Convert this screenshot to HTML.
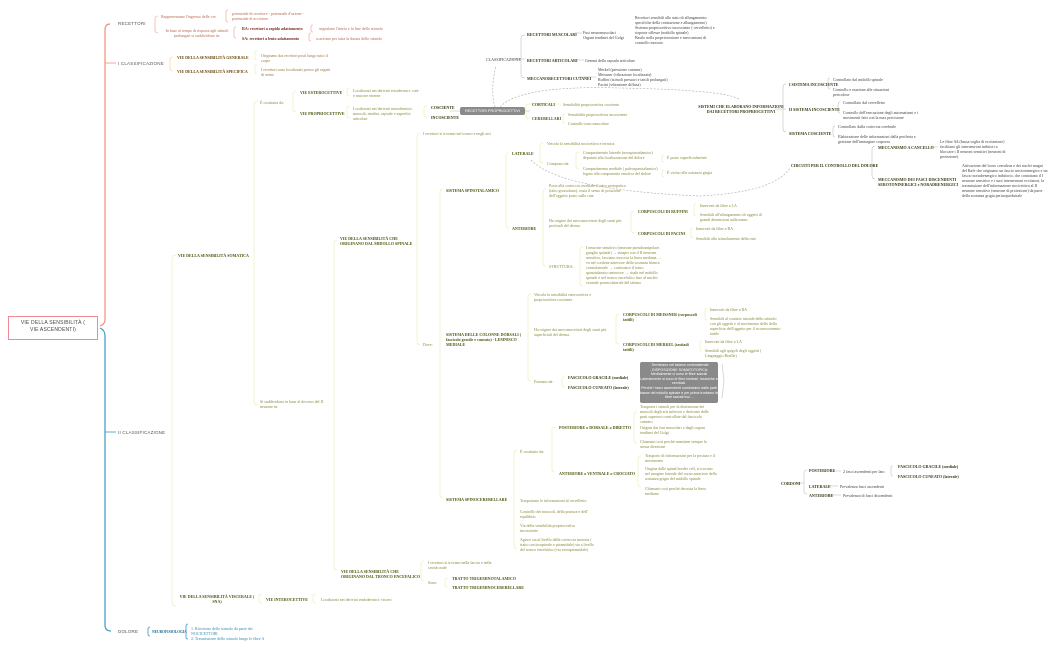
<!DOCTYPE html>
<html><head><meta charset="utf-8">
<style>
html,body{margin:0;padding:0;background:#fff;}
#c{position:relative;width:1050px;height:650px;overflow:hidden;background:#fff;}
.t{position:absolute;font-family:"Liberation Serif",serif;font-size:4px;line-height:5px;color:#7a6a3a;white-space:normal;}
.r{color:#b86a4e;}
.b{font-weight:bold;color:#3a3a1a;letter-spacing:0;}
.br{font-weight:bold;color:#7a2a1a;}
.g{color:#8a8a40;}
.k{color:#444;}
.s{font-family:"Liberation Sans",sans-serif;font-size:5px;color:#555;letter-spacing:0.2px;}
.bl{color:#3a8ab0;}
.box{position:absolute;background:#8a8a8a;color:#fff;font-family:"Liberation Sans",sans-serif;font-size:4px;line-height:5px;text-align:center;border-radius:2px;}
svg{position:absolute;left:0;top:0;}
</style></head><body><div id="c">
<svg width="1050" height="650" fill="none" stroke-width="0.8">
<path d="M110 24 Q105 24 105 30 L105 320 Q105 324 100 326" stroke="#f0907a" stroke-width="1.2"/>
<path d="M100 328 Q105 330 105 336 L105 625 Q105 631 111 631" stroke="#3a9ac0" stroke-width="1.2"/>
<line x1="105" y1="63" x2="116" y2="63" stroke="#f0907a"/>
<line x1="105" y1="432" x2="116" y2="432" stroke="#3a9ac0"/>
<g stroke="#f4b8a0">
<path d="M158 16 Q155 16 155 19 L155 30 Q155 33 158 33"/>
<path d="M228 10 Q226 10 226 12 L226 20 Q226 22 228 22"/>
<path d="M236 27 Q234 27 234 29 L234 36 Q234 38 236 38"/>
<path d="M313 25 Q311 25 311 27 L311 30 Q311 32 313 32"/>
<path d="M311 33 Q309 33 309 35 L309 39 Q309 41 311 41"/>
</g>
<g stroke="#f8d8a0">
<path d="M173 57 Q170 57 170 60 L170 68 Q170 71 173 71"/>
</g>
<g stroke="#eef0c0">
<path d="M257 51 Q255 51 255 53 L255 58 Q255 60 257 60"/>
<path d="M257 65 Q255 65 255 67 L255 72 Q255 74 257 74"/>
<path d="M176 255 Q172 255 172 259 L172 602 Q172 606 176 606"/>
<path d="M258 101 Q254 101 254 105 L254 401 Q254 405 258 405"/>
<path d="M296 91 Q293 91 293 94 L293 109 Q293 112 296 112"/>
<path d="M350 88 Q347 88 347 90 L347 94 Q347 96 350 96"/>
<path d="M350 106 Q347 106 347 108 L347 116 Q347 118 350 118"/>
<path d="M427 106 Q424 106 424 108 L424 115 Q424 117 427 117"/>
<path d="M337 240 Q334 240 334 244 L334 566 Q334 570 337 570"/>
<path d="M420 133 Q417 133 417 137 L417 341 Q417 345 420 345"/>
<path d="M443 189 Q440 189 440 193 L440 494 Q440 498 443 498"/>
<path d="M509 153 Q506 153 506 156 L506 225 Q506 228 509 228"/>
<path d="M543 143 Q540 143 540 146 L540 160 Q540 163 543 163"/>
<path d="M579 152 Q576 152 576 155 L576 166 Q576 169 579 169"/>
<path d="M664 155 Q662 155 662 157 L662 160 Q662 162 664 162"/>
<path d="M664 170 Q662 170 662 172 L662 175 Q662 177 664 177"/>
<path d="M546 189 Q543 189 543 193 L543 262 Q543 266 546 266"/>
<path d="M634 211 Q631 211 631 214 L631 230 Q631 233 634 233"/>
<path d="M696 204 Q694 204 694 206 L694 214 Q694 216 696 216"/>
<path d="M693 228 Q691 228 691 230 L691 236 Q691 238 693 238"/>
<path d="M583 247 Q580 247 580 250 L580 283 Q580 286 583 286"/>
<path d="M531 294 Q528 294 528 297 L528 378 Q528 381 531 381"/>
<path d="M619 314 Q616 314 616 317 L616 341 Q616 344 619 344"/>
<path d="M707 308 Q705 308 705 310 L705 318 Q705 320 707 320"/>
<path d="M702 341 Q700 341 700 343 L700 349 Q700 351 702 351"/>
<path d="M565 377 Q562 377 562 379 L562 385 Q562 387 565 387"/>
<path d="M517 450 Q514 450 514 454 L514 545 Q514 549 517 549"/>
<path d="M555 427 Q552 427 552 430 L552 469 Q552 472 555 472"/>
<path d="M637 412 Q634 412 634 415 L634 440 Q634 443 637 443"/>
<path d="M641 456 Q638 456 638 459 L638 484 Q638 487 641 487"/>
<path d="M424 561 Q421 561 421 564 L421 578 Q421 581 424 581"/>
<path d="M448 578 Q445 578 445 580 L445 585 Q445 587 448 587"/>
<path d="M262 594 Q259 594 259 596 L259 601 Q259 603 262 603"/>
<path d="M316 594 Q313 594 313 596 L313 601 Q313 603 316 603"/>
<path d="M529 104 L561 104"/>
<path d="M529 104 Q526 104 526 107 L526 116 Q526 119 529 119"/>
<path d="M565 114 Q563 114 563 116 L563 121 Q563 123 565 123"/>
</g>
<g stroke="#cfcfcf">
<path d="M525 35 Q521 35 521 39 L521 74 Q521 78 525 78"/>
<line x1="510" y1="59" x2="525" y2="59"/>
<line x1="575" y1="33" x2="582" y2="33"/>
<line x1="577" y1="60" x2="584" y2="60"/>
<line x1="578" y1="77" x2="596" y2="77"/>
<path d="M786 84 Q783 84 783 88 L783 128 Q783 132 786 132"/>
<line x1="775" y1="109" x2="786" y2="109"/>
<path d="M830 78 Q828 78 828 81 L828 86 Q828 89 830 89"/>
<path d="M840 102 Q838 102 838 105 L838 110 Q838 113 840 113"/>
<path d="M835 126 Q833 126 833 129 L833 134 Q833 137 835 137"/>
<path d="M875 146 Q872 146 872 150 L872 175 Q872 179 875 179"/>
<line x1="865" y1="165" x2="872" y2="165"/>
<line x1="930" y1="147" x2="938" y2="147"/>
<path d="M807 470 Q804 470 804 473 L804 491 Q804 494 807 494"/>
<line x1="796" y1="483" x2="804" y2="483"/>
<line x1="833" y1="471" x2="841" y2="471"/>
<line x1="826" y1="486" x2="838" y2="486"/>
<line x1="830" y1="495" x2="841" y2="495"/>
<path d="M893 466 Q891 466 891 468 L891 474 Q891 476 893 476"/>
<line x1="525" y1="111" x2="530" y2="111"/>
<line x1="450" y1="111" x2="460" y2="111"/>
<path d="M722 364 L724 381 L722 398"/>
</g>
<g stroke="#aaaaaa" stroke-dasharray="2,1.5" stroke-width="0.6">
<path d="M495 107 Q490 90 496 66"/>
<path d="M500 107 Q520 85 620 88 Q730 90 740 100"/>
<path d="M531 160 Q560 190 700 196 Q775 192 790 168"/>
</g>
<g stroke="#3a9ac0"><path d="M150 627 Q148 627 148 629 L148 634 Q148 636 150 636"/><path d="M188 624 Q186 624 186 626 L186 637 Q186 639 188 639"/></g>
</svg>

<div style="position:absolute;left:8px;top:316px;width:88px;height:22px;border:1px solid #f08a94;"></div>
<div class="t s" style="left:8px;top:320px;width:90px;text-align:center;line-height:7px;font-size:5px;color:#444;">VIE DELLA SENSIBILITÀ (<br>VIE ASCENDENTI)</div>

<div class="t s" style="left:118px;top:21px;font-size:4.5px">RECETTORI</div>
<div class="t s" style="left:118px;top:61px;font-size:4.5px">I CLASSIFICAZIONE</div>
<div class="t s" style="left:118px;top:430px;font-size:4.5px">II CLASSIFICAZIONE</div>
<div class="t s" style="left:118px;top:629px;font-size:4.5px">DOLORE</div>

<div class="t r" style="left:161px;top:14px">Rappresentano l'ingresso delle vie</div>
<div class="t r" style="left:232px;top:11px;width:72px">potenziale di recettore - potenziale d'azione - potenziale di accettore</div>
<div class="t r" style="left:161px;top:28px;width:72px;text-align:center">In base al tempo di risposta agli stimoli prolungati si suddividono in:</div>
<div class="t br" style="left:242px;top:26px">RA: recettori a rapido adattamento</div>
<div class="t r" style="left:319px;top:26px">segnalano l'inizio e la fine dello stimolo</div>
<div class="t br" style="left:242px;top:36px">SA: recettori a lento adattamento</div>
<div class="t r" style="left:316px;top:36px">scaricano per tutta la durata dello stimolo</div>

<div class="t br" style="left:177px;top:55px;color:#6a4a10">VIE DELLA SENSIBILITÀ GENERALE</div>
<div class="t r" style="left:261px;top:53px;width:72px;color:#9a7a40">Originano dai recettori posti lungo tutto il corpo</div>
<div class="t br" style="left:177px;top:69px;color:#6a4a10">VIE DELLA SENSIBILITÀ SPECIFICA</div>
<div class="t r" style="left:261px;top:67px;width:72px;color:#9a7a40">I recettori sono localizzati presso gli organi di senso</div>

<div class="t g" style="left:260px;top:100px">È costituita da:</div>
<div class="t b" style="left:300px;top:90px;color:#4a5a10">VIE ESTEROCETTIVE</div>
<div class="t g" style="left:353px;top:88px;width:68px">Localizzati nei derivati ectodermici: cute e mucose esterne</div>
<div class="t b" style="left:300px;top:111px;color:#4a5a10">VIE PROPRIOCETTIVE</div>
<div class="t g" style="left:353px;top:106px;width:72px">Localizzati nei derivati mesodermici: muscoli, tendini, capsule e superfici articolari</div>
<div class="t b" style="left:431px;top:105px">COSCIENTE</div>
<div class="t b" style="left:431px;top:115px">INCOSCIENTE</div>
<div class="box" style="left:460px;top:107px;width:65px;height:8px;line-height:8px;font-size:3.8px">RECETTORI PROPRIOCETTIVI</div>

<div class="t k" style="left:486px;top:57px">CLASSIFICAZIONE</div>
<div class="t b" style="left:527px;top:32px">RECETTORI MUSCOLARI</div>
<div class="t k" style="left:583px;top:30px">Fusi neuromuscolari<br>Organi tendinei del Golgi</div>
<div class="t k" style="left:635px;top:15px;width:82px">Recettori sensibili allo stato di allungamento: specifiche della contrazione e allungamento)<br>Sistema propriocettivo incosciente ( cervelletto) e risposte riflesse (midollo spinale)<br>Basilo nella propriocezione e meccanismi di controllo motorio</div>
<div class="t b" style="left:527px;top:58px">RECETTORI ARTICOLARI</div>
<div class="t k" style="left:585px;top:58px">Gemmi della capsula articolare</div>
<div class="t b" style="left:527px;top:76px">MECCANORECETTORI CUTANEI</div>
<div class="t k" style="left:598px;top:67px;width:80px">Merkel (pressione cutanea)<br>Meissner (vibrazione localizzata)<br>Ruffini (stimoli pressori e tattili prolungati)<br>Pacini (vibrazione diffusa)</div>
<div class="t b" style="left:532px;top:102px;color:#4a5a10">CORTICALI</div>
<div class="t g" style="left:563px;top:102px">Sensibilità propriocettiva cosciente</div>
<div class="t b" style="left:532px;top:116px;color:#4a5a10">CEREBELLARI</div>
<div class="t g" style="left:568px;top:112px">Sensibilità propriocettiva incosciente</div>
<div class="t g" style="left:568px;top:121px">Controllo tono muscolare</div>

<div class="t b" style="left:695px;top:104px;width:92px;text-align:center">SISTEMI CHE ELABORANO INFORMAZIONI DAI RECETTORI PROPRIOCETTIVI</div>
<div class="t b" style="left:789px;top:82px">I SISTEMA INCOSCIENTE</div>
<div class="t k" style="left:833px;top:77px">Controllato dal midollo spinale</div>
<div class="t k" style="left:833px;top:87px;width:62px">Controllo e reazione alle situazioni pericolose</div>
<div class="t b" style="left:789px;top:107px">II SISTEMA INCOSCIENTE</div>
<div class="t k" style="left:843px;top:100px">Controllato dal cervelletto</div>
<div class="t k" style="left:843px;top:110px;width:80px">Controllo dell'esecuzione degli automatismi e i movimenti fatti con la max precisione</div>
<div class="t b" style="left:789px;top:131px">SISTEMA COSCIENTE</div>
<div class="t k" style="left:838px;top:124px">Controllato dalla corteccia cerebrale</div>
<div class="t k" style="left:838px;top:134px;width:80px">Elaborazione delle informazioni dalla periferia e gestione dell'immagine corporea</div>

<div class="t b" style="left:791px;top:163px">CIRCUITI PER IL CONTROLLO DEL DOLORE</div>
<div class="t b" style="left:878px;top:145px">MECCANISMO A CANCELLO</div>
<div class="t k" style="left:940px;top:139px;width:72px">Le fibre Aß (bassa soglia di eccitazione) facilitano gli interneuroni inibitori a bloccare i II neuroni sensitivi (neuroni di proiezione)</div>
<div class="t b" style="left:878px;top:177px;width:88px">MECCANISMO DEI FASCI DISCENDENTI SEROTONINERGICI e NORADRENERGICI</div>
<div class="t k" style="left:962px;top:163px;width:86px">Attivazione del locus coeruleus e dei nuclei magni del Rafe che originano un fascio serotoninergico e un fascio noradrenergico inibitorio, che contattano il I neurone sensitivo e i suoi interneuroni eccitatori, la trasmissione dell'informazione nocicettiva al II neurone sensitivo (neurone di proiezione) da parte della sostanza grigia periacqueduttale</div>

<div class="t g" style="left:423px;top:131px">I recettori si trovano nel tronco e negli arti</div>
<div class="t b" style="left:446px;top:188px;color:#4a5a10">SISTEMA SPINOTALAMICO</div>
<div class="t b" style="left:512px;top:151px;color:#4a5a10">LATERALE</div>
<div class="t g" style="left:547px;top:141px">Veicola la sensibilità nocicettiva e termica</div>
<div class="t g" style="left:547px;top:161px">Composto da:</div>
<div class="t g" style="left:583px;top:150px;width:75px">Compartimento laterale (neospinotalamico) deputato alla localizzazione del dolore</div>
<div class="t g" style="left:667px;top:155px">È posto superficialmente</div>
<div class="t g" style="left:583px;top:166px;width:78px">Compartimento mediale ( paleospinotalamico) legato alla componente emotiva del dolore</div>
<div class="t g" style="left:667px;top:170px">È vicino alla sostanza grigia</div>
<div class="t b" style="left:512px;top:226px;color:#4a5a10">ANTERIORE</div>
<div class="t g" style="left:549px;top:183px;width:78px">Porta alla corteccia cerebrale il tatto protopatico (tatto grossolano), ossia il senso di posizione dell'oggetto posto sulla cute</div>
<div class="t g" style="left:549px;top:218px;width:78px">Ha origine dai meccanocettori degli strati più profondi del derma.</div>
<div class="t b" style="left:638px;top:209px;color:#4a5a10">CORPUSCOLI DI RUFFINI</div>
<div class="t g" style="left:700px;top:203px">Innervati da fibre a LA</div>
<div class="t g" style="left:700px;top:212px;width:72px">Sensibili all'allungamento di oggetti di grandi dimensioni sulla mano</div>
<div class="t b" style="left:638px;top:231px;color:#4a5a10">CORPUSCOLI DI PACINI</div>
<div class="t g" style="left:696px;top:226px">Innervati da fibre a RA</div>
<div class="t g" style="left:696px;top:236px">Sensibili allo stimolamento della cute</div>
<div class="t g" style="left:549px;top:264px">STRUTTURA:</div>
<div class="t g" style="left:586px;top:245px;width:76px">I neurone sensitivo (neurone pseudounipolare, ganglio spinale) → sinapsi con il II neurone sensitivo, lasciano incrocia la linea mediana → va nel cordone anteriore della sostanza bianca controlaterale → costituisce il tratto spinotalamico anteriore → risale nel midollo spinale e nel tronco encefalico fino al nucleo ventrale posterolaterale del talamo</div>

<div class="t g" style="left:534px;top:292px;width:72px">Veicola la sensibilità esterocettiva e propriocettiva cosciente</div>
<div class="t b" style="left:446px;top:332px;width:80px;color:#4a5a10">SISTEMA DELLE COLONNE DORSALI ( fascicolo gracile e cuneato) - LEMNISCO MEDIALE</div>
<div class="t g" style="left:423px;top:342px">Dove:</div>
<div class="t g" style="left:534px;top:327px;width:75px">Ha origine dai meccanocettori degli strati più superficiali del derma.</div>
<div class="t b" style="left:623px;top:312px;width:76px;color:#4a5a10">CORPUSCOLI DI MEISSNER (corpuscoli tattili)</div>
<div class="t g" style="left:710px;top:307px">Innervati da fibre a RA</div>
<div class="t g" style="left:710px;top:316px;width:72px">Sensibili al contatto iniziale dello stimolo con gli oggetti e al movimento dello della superficie dell'oggetto per il riconoscimento tattile</div>
<div class="t b" style="left:623px;top:342px;width:70px;color:#4a5a10">CORPUSCOLI DI MERKEL (tastiadi tattili)</div>
<div class="t g" style="left:705px;top:339px">Innervati da fibre a LA</div>
<div class="t g" style="left:705px;top:348px;width:72px">Sensibili agli spigoli degli oggetti ( Linguaggio Braille)</div>
<div class="t g" style="left:534px;top:379px">Formato da:</div>
<div class="t b" style="left:568px;top:375px">FASCICOLO GRACILE (mediale)</div>
<div class="t b" style="left:568px;top:385px">FASCICOLO CUNEATO (laterale)</div>
<div class="box" style="left:640px;top:362px;width:78px;height:40px;padding-top:1px;font-size:3.6px;line-height:4.6px">- Terminano nel talamo controlaterale<br>- DISPOSIZIONE SOMATOTOPICA:<br>Medialmente ci sono le fibre sacrali<br>Lateralmente si sono le fibre lombari, toraciche e cervicali.<br>Perché i fasci ascendenti cominciano dalle parti basse del midollo spinale e per prima troviamo le fibre sacrali ecc...</div>

<div class="t g" style="left:520px;top:449px">È costituito da:</div>
<div class="t b" style="left:559px;top:425px;color:#4a5a10">POSTERIORE o DORSALE o DIRETTO</div>
<div class="t g" style="left:640px;top:404px;width:75px">Trasporta i stimoli per la distensione dei muscoli degli arti inferiori e derivano dalle parti superiori controllate dal fascicolo cuneato</div>
<div class="t g" style="left:640px;top:425px;width:75px">Origina dai fusi muscolari e dagli organi tendinei del Golgi</div>
<div class="t g" style="left:640px;top:439px;width:75px">Chiamato così perché mantiene sempre la stessa direzione</div>
<div class="t b" style="left:559px;top:471px;color:#4a5a10">ANTERIORE o VENTRALE o CROCIATO</div>
<div class="t g" style="left:645px;top:453px;width:72px">Trasporto di informazioni per la postura e il movimento</div>
<div class="t g" style="left:645px;top:466px;width:72px">Origina dalle spinal border cell, si trovano nel margine laterale del corno anteriore della sostanza grigia del midollo spinale</div>
<div class="t g" style="left:645px;top:486px;width:72px">Chiamato così perché decussa la linea mediana</div>
<div class="t b" style="left:446px;top:497px;color:#4a5a10">SISTEMA SPINOCEREBELLARE</div>
<div class="t g" style="left:520px;top:498px">Trasportano le informazioni al cervelletto</div>
<div class="t g" style="left:520px;top:509px;width:75px">Controllo dei muscoli, della postura e dell' equilibrio</div>
<div class="t g" style="left:520px;top:523px;width:72px">Via della sensibilità propriocettiva incosciente</div>
<div class="t g" style="left:520px;top:537px;width:75px">Agisce sia al livello della corteccia motoria ( tratto corticospinale o piramidale) sia a livello del tronco encefalico (via extrapiramidale)</div>

<div class="t b" style="left:340px;top:236px;width:80px;color:#4a5a10">VIE DELLA SENSIBILITÀ CHE ORIGINANO DAL MIDOLLO SPINALE</div>
<div class="t b" style="left:178px;top:253px;color:#4a5a10">VIE DELLA SENSIBILITÀ SOMATICA</div>
<div class="t g" style="left:260px;top:399px;width:70px">Si suddividono in base al decorso del II neurone in:</div>
<div class="t b" style="left:341px;top:569px;width:80px;color:#4a5a10">VIE DELLA SENSIBILITÀ CHE ORIGINANO DAL TRONCO ENCEFALICO</div>
<div class="t g" style="left:428px;top:560px;width:70px">I recettori si trovano nella faccia e nella cavità orale</div>
<div class="t g" style="left:428px;top:580px">Sono:</div>
<div class="t b" style="left:452px;top:576px;color:#4a5a10">TRATTO TRIGEMINOTALAMICO</div>
<div class="t b" style="left:452px;top:585px;color:#4a5a10">TRATTO TRIGEMINOCEREBELLARE</div>
<div class="t b" style="left:176px;top:594px;width:82px;text-align:center;color:#4a5a10">VIE DELLA SENSIBILITÀ VISCERALE ( SNA)</div>
<div class="t b" style="left:266px;top:597px;color:#4a5a10">VIE INTEROCETTIVE</div>
<div class="t g" style="left:321px;top:597px">Localizzati nei derivati endodermici: visceri</div>

<div class="t b bl" style="left:152px;top:630px;color:#1a6a90;font-size:3.6px">NEUROFISIOLOGIA</div>
<div class="t bl" style="left:191px;top:626px;width:80px">1. Ricezione dello stimolo da parte dei NOCICETTORI<br>2. Trasmissione dello stimolo lungo le fibre A</div>

<div class="t b" style="left:781px;top:481px">CORDONI</div>
<div class="t b" style="left:809px;top:468px">POSTERIORE</div>
<div class="t k" style="left:843px;top:469px">2 fasci ascendenti per lato</div>
<div class="t b" style="left:898px;top:464px">FASCICOLO GRACILE (mediale)</div>
<div class="t b" style="left:898px;top:474px">FASCICOLO CUNEATO (laterale)</div>
<div class="t b" style="left:809px;top:484px">LATERALE</div>
<div class="t k" style="left:840px;top:484px">Prevalenza fasci ascendenti</div>
<div class="t b" style="left:809px;top:493px">ANTERIORE</div>
<div class="t k" style="left:843px;top:493px">Prevalenza di fasci discendenti</div>
</div></body></html>
